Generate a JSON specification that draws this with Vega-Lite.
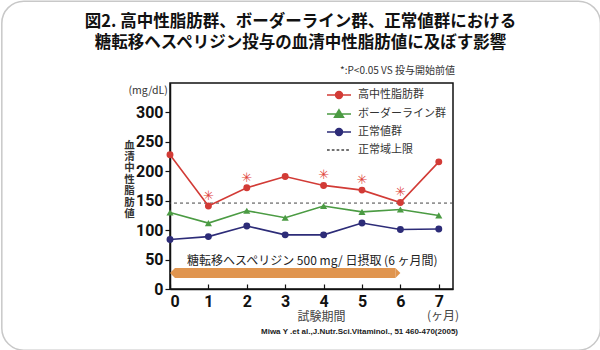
{
  "$schema": "https://vega.github.io/schema/vega-lite/v6.json",
  "autosize": "none",
  "width": 283,
  "height": 206,
  "padding": {"left": 170, "top": 83, "right": 147, "bottom": 61},
  "background": "white",
  "title": {
    "text": ["図2. 高中性脂肪群、ボーダーライン群、正常値群における", "糖転移ヘスペリジン投与の血清中性脂肪値に及ぼす影響"],
    "font": "Noto Sans CJK JP",
    "fontSize": 16.5,
    "fontWeight": "bold",
    "color": "#111111",
    "anchor": "middle",
    "frame": "group",
    "dx": -11,
    "dy": 51,
    "lineHeight": 21,
    "offset": 0
  },
  "config": {
    "view": {"stroke": "#111111", "strokeWidth": 1.5},
    "font": "Noto Sans CJK JP"
  },
  "datasets": {
    "tg": [
      {"month": 0, "group": "高中性脂肪群", "value": 228, "sig": false},
      {"month": 1, "group": "高中性脂肪群", "value": 141, "sig": true},
      {"month": 2, "group": "高中性脂肪群", "value": 172, "sig": true},
      {"month": 3, "group": "高中性脂肪群", "value": 191, "sig": false},
      {"month": 4, "group": "高中性脂肪群", "value": 176, "sig": true},
      {"month": 5, "group": "高中性脂肪群", "value": 168, "sig": true},
      {"month": 6, "group": "高中性脂肪群", "value": 147, "sig": true},
      {"month": 7, "group": "高中性脂肪群", "value": 216, "sig": false},
      {"month": 0, "group": "ボーダーライン群", "value": 130, "sig": false},
      {"month": 1, "group": "ボーダーライン群", "value": 112, "sig": false},
      {"month": 2, "group": "ボーダーライン群", "value": 133, "sig": false},
      {"month": 3, "group": "ボーダーライン群", "value": 121, "sig": false},
      {"month": 4, "group": "ボーダーライン群", "value": 141, "sig": false},
      {"month": 5, "group": "ボーダーライン群", "value": 131, "sig": false},
      {"month": 6, "group": "ボーダーライン群", "value": 135, "sig": false},
      {"month": 7, "group": "ボーダーライン群", "value": 125, "sig": false},
      {"month": 0, "group": "正常値群", "value": 84, "sig": false},
      {"month": 1, "group": "正常値群", "value": 89, "sig": false},
      {"month": 2, "group": "正常値群", "value": 107, "sig": false},
      {"month": 3, "group": "正常値群", "value": 92, "sig": false},
      {"month": 4, "group": "正常値群", "value": 92, "sig": false},
      {"month": 5, "group": "正常値群", "value": 112, "sig": false},
      {"month": 6, "group": "正常値群", "value": 101, "sig": false},
      {"month": 7, "group": "正常値群", "value": 102, "sig": false}
    ],
    "period": [{"start": 0, "end": 6, "level": 27, "label": "糖転移ヘスペリジン 500 mg/ 日摂取 (6 ヶ月間)"}],
    "limit": [{"group": "正常域上限", "value": 146}]
  },
  "encoding": {
    "x": {
      "type": "quantitative",
      "scale": {"domain": [0, 7.37], "nice": false, "zero": false},
      "axis": {
        "values": [0, 1, 2, 3, 4, 5, 6, 7],
        "grid": false,
        "format": "d",
        "tickSize": -5,
        "tickColor": "#111111",
        "tickWidth": 1.2,
        "labelPadding": 9,
        "labelFont": "'Liberation Sans Narrow', Roboto, sans-serif",
        "labelFontSize": 16,
        "labelColor": "#111111",
        "labelFontWeight": "bold",
        "domainColor": "#111111",
        "domainWidth": 1.5,
        "title": "試験期間",
        "titleFont": "Noto Sans CJK JP",
        "titleFontSize": 12,
        "titleFontWeight": "normal",
        "titleColor": "#444444",
        "titleX": 151,
        "titleY": 27,
        "titleBaseline": "middle",
        "titleAlign": "center"
      }
    },
    "y": {
      "type": "quantitative",
      "scale": {"domain": [0, 350], "nice": false},
      "axis": {
        "values": [0, 50, 100, 150, 200, 250, 300],
        "grid": false,
        "tickSize": 5,
        "tickColor": "#111111",
        "tickWidth": 1.2,
        "labelPadding": 2,
        "labelFont": "'Liberation Sans Narrow', Roboto, sans-serif",
        "labelFontSize": 16,
        "labelColor": "#111111",
        "labelFontWeight": "bold",
        "domainColor": "#111111",
        "domainWidth": 1.5,
        "encode": {"labels": {"update": {"dy": {"signal": "datum.value === 0 ? 9 : 0"}}}},
        "title": ["血", "清", "中", "性", "脂", "肪", "値"],
        "titleFont": "Noto Sans CJK JP",
        "titleFontSize": 10.5,
        "titleFontWeight": "bold",
        "titleColor": "#333333",
        "titleAngle": 0,
        "titleLineHeight": 11.4,
        "titleX": -41,
        "titleY": 57,
        "titleAlign": "center",
        "titleBaseline": "top"
      }
    }
  },
  "layer": [
    {
      "data": {"name": "limit"},
      "mark": {"type": "rule", "strokeDash": [3, 3], "strokeWidth": 1, "color": "#444444"},
      "encoding": {"x": null, "y": {"field": "value", "type": "quantitative"}}
    },
    {
      "data": {"name": "tg"},
      "mark": {"type": "line", "strokeWidth": 1.6},
      "encoding": {
        "x": {"field": "month", "type": "quantitative"},
        "y": {"field": "value", "type": "quantitative"},
        "color": {
          "field": "group",
          "type": "nominal",
          "scale": {
            "domain": ["高中性脂肪群", "ボーダーライン群", "正常値群", "正常域上限"],
            "range": ["#D23B36", "#4B9B43", "#2D2C78", "#444444"]
          }
        }
      }
    },
    {
      "data": {"name": "tg"},
      "transform": [{"filter": "datum.group !== 'ボーダーライン群'"}],
      "mark": {"type": "point", "shape": "circle", "filled": true, "opacity": 1, "size": 48},
      "encoding": {
        "x": {"field": "month", "type": "quantitative"},
        "y": {"field": "value", "type": "quantitative"},
        "color": {"field": "group", "type": "nominal"}
      }
    },
    {
      "data": {"name": "tg"},
      "transform": [{"filter": "datum.group === 'ボーダーライン群'"}],
      "mark": {"type": "point", "shape": "triangle-up", "filled": true, "opacity": 1, "size": 50},
      "encoding": {
        "x": {"field": "month", "type": "quantitative"},
        "y": {"field": "value", "type": "quantitative"},
        "color": {"field": "group", "type": "nominal"}
      }
    },
    {
      "data": {"name": "tg"},
      "transform": [{"filter": "datum.sig"}],
      "mark": {"type": "text", "text": "✳", "font": "DejaVu Sans", "fontSize": 13, "fontWeight": "bold", "color": "#E0443C", "baseline": "middle", "dy": -10},
      "encoding": {
        "x": {"field": "month", "type": "quantitative"},
        "y": {"field": "value", "type": "quantitative"}
      }
    },
    {
      "data": {"name": "period"},
      "mark": {"type": "rule", "strokeWidth": 10, "color": "#E0954F", "strokeCap": "butt", "xOffset": 5, "x2Offset": -5},
      "encoding": {
        "x": {"field": "start", "type": "quantitative"},
        "x2": {"field": "end"},
        "y": {"field": "level", "type": "quantitative"}
      }
    },
    {
      "data": {"name": "period"},
      "mark": {"type": "point", "shape": "M0,0L1,-1L1,1Z", "size": 100, "filled": true, "opacity": 1, "color": "#E0954F", "strokeWidth": 0},
      "encoding": {
        "x": {"field": "start", "type": "quantitative"},
        "y": {"field": "level", "type": "quantitative"}
      }
    },
    {
      "data": {"name": "period"},
      "mark": {"type": "point", "shape": "M0,0L-1,-1L-1,1Z", "size": 100, "filled": true, "opacity": 1, "color": "#E0954F", "strokeWidth": 0},
      "encoding": {
        "x": {"field": "end", "type": "quantitative"},
        "y": {"field": "level", "type": "quantitative"}
      }
    },
    {
      "data": {"name": "period"},
      "mark": {"type": "text", "align": "left", "baseline": "middle", "fontSize": 12, "color": "#222222", "dx": 17, "dy": -12},
      "encoding": {
        "x": {"field": "start", "type": "quantitative"},
        "y": {"field": "level", "type": "quantitative"},
        "text": {"field": "label"}
      }
    },
    {
      "data": {"values": [{"t": "(mg/dL)"}]},
      "mark": {"type": "text", "align": "center", "baseline": "middle", "fontSize": 10.5, "color": "#333333"},
      "encoding": {"x": {"datum": -0.57}, "y": {"datum": 337}, "text": {"field": "t"}}
    },
    {
      "data": {"values": [{"t": "*:P<0.05 VS 投与開始前値"}]},
      "mark": {"type": "text", "align": "right", "baseline": "middle", "fontSize": 10, "color": "#333333"},
      "encoding": {"x": {"datum": 7.42}, "y": {"datum": 370}, "text": {"field": "t"}}
    },
    {
      "data": {"values": [{"t": "(ヶ月)"}]},
      "mark": {"type": "text", "align": "center", "baseline": "middle", "fontSize": 12, "color": "#444444"},
      "encoding": {"x": {"datum": 7.11}, "y": {"datum": -46}, "text": {"field": "t"}}
    },
    {
      "data": {"values": [{"t": "Miwa Y .et al.,J.Nutr.Sci.Vitaminol., 51 460-470(2005)"}]},
      "mark": {"type": "text", "align": "right", "baseline": "middle", "fontSize": 8, "font": "Liberation Sans", "fontWeight": "bold", "color": "#222222"},
      "encoding": {"x": {"datum": 7.5}, "y": {"datum": -73}, "text": {"field": "t"}}
    },
    {
      "data": {"values": [{"k": 1}]},
      "mark": {"type": "rect", "fill": null, "stroke": "#C8C8C8", "strokeWidth": 1.5, "cornerRadius": 22},
      "encoding": {"x": {"datum": -4.38}, "x2": {"datum": 11.21}, "y": {"datum": -104}, "y2": {"datum": 489}}
    },
    {
      "data": {"name": "tg"},
      "transform": [{"filter": "false"}],
      "mark": {"type": "point", "filled": true, "size": 144},
      "encoding": {
        "x": {"field": "month", "type": "quantitative"},
        "y": {"field": "value", "type": "quantitative"},
        "color": {
          "field": "group",
          "type": "nominal",
          "legend": {
            "title": null,
            "orient": "none",
            "legendX": 162,
            "legendY": 5,
            "padding": 0,
            "symbolSize": 144,
            "rowPadding": 4,
            "labelOffset": 12,
            "labelFontSize": 11,
            "labelColor": "#333333",
            "labelFont": "Noto Sans CJK JP",
            "encode": {
              "symbols": {
                "update": {
                  "fill": {"scale": "color", "field": "value"},
                  "stroke": {"scale": "color", "field": "value"},
                  "strokeWidth": {"value": 1.5},
                  "opacity": {"value": 1},
                  "fillOpacity": {"value": 1},
                  "strokeOpacity": {"value": 1}
                }
              }
            }
          }
        },
        "shape": {
          "field": "group",
          "type": "nominal",
          "scale": {
            "domain": ["高中性脂肪群", "ボーダーライン群", "正常値群", "正常域上限"],
            "range": [
              "M-2,0H2M0.58,0A0.58,0.58,0,1,1,-0.58,0A0.58,0.58,0,1,1,0.58,0Z",
              "M-2,0H2M0,-0.7L0.75,0.55H-0.75Z",
              "M-2,0H2M0.58,0A0.58,0.58,0,1,1,-0.58,0A0.58,0.58,0,1,1,0.58,0Z",
              "M-2,0H-1.55M-1.2,0H-0.75M-0.4,0H0.05M0.4,0H0.85M1.2,0H1.65"
            ]
          }
        }
      }
    }
  ]
}
